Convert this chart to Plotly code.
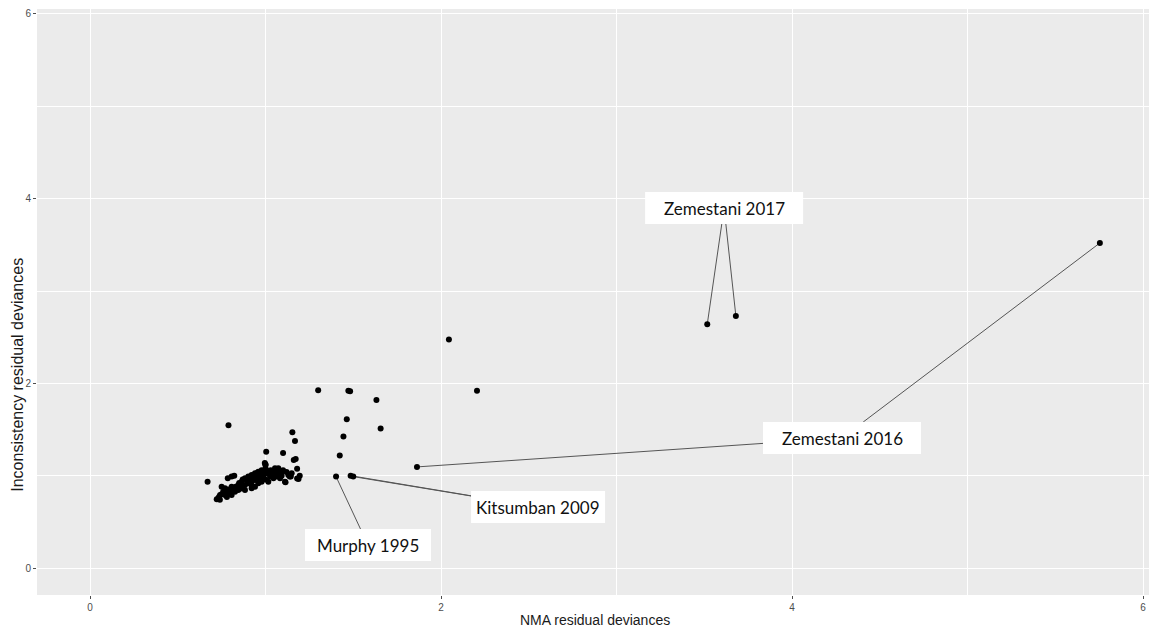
import plotly.graph_objects as go

# Residual deviances per data point: NMA model (x) vs inconsistency model (y)
nma_dev = [
    0.670, 0.789, 1.004, 1.100, 1.153, 1.168, 1.161, 1.172, 1.180, 1.144, 1.195, 1.188,
    0.996, 1.114, 1.300, 1.472, 1.482, 1.632, 1.463, 1.656, 1.444, 1.423, 2.045, 2.205,
    0.785, 0.807, 0.822, 0.731, 0.741, 0.750, 0.769, 0.788, 0.807, 0.826, 0.845, 0.864,
    0.883, 0.902, 0.921, 0.940, 0.959, 0.978, 0.883, 0.902, 0.921, 0.940, 0.959, 0.978,
    0.864, 0.845, 0.826, 0.807, 0.769, 0.759, 0.940, 0.921, 0.959, 0.978, 0.987, 0.883,
    1.000, 1.000, 1.054, 1.073, 1.130, 1.149, 1.180, 1.111, 0.950, 0.969, 0.988, 1.007,
    1.026, 1.045, 1.064, 1.083, 1.016, 1.092, 0.722, 0.735, 0.750, 0.790, 0.810, 0.830,
    0.850, 0.870, 0.895, 0.910, 0.930, 0.950, 0.970, 0.990, 1.010, 1.030, 1.035, 1.050,
    1.070, 1.090, 1.100, 1.120, 1.000, 0.960, 0.920, 0.860, 0.800, 0.780, 0.740, 1.073,
    1.000, 1.138,
]
inc_dev = [
    0.935, 1.547, 1.260, 1.245, 1.470, 1.377, 1.170, 1.180, 1.076, 0.990, 1.000, 0.964,
    1.138, 0.930, 1.924, 1.920, 1.915, 1.820, 1.610, 1.510, 1.424, 1.220, 2.475, 1.920,
    0.972, 0.990, 1.000, 0.755, 0.790, 0.880, 0.863, 0.826, 0.880, 0.863, 0.900, 0.935,
    0.972, 0.990, 1.007, 1.026, 1.043, 1.060, 0.900, 0.918, 0.935, 0.953, 0.970, 0.990,
    0.880, 0.845, 0.826, 0.790, 0.790, 0.826, 0.880, 0.863, 0.918, 0.935, 1.007, 0.845,
    1.116, 1.080, 1.080, 1.060, 1.007, 1.026, 0.970, 0.935, 1.026, 1.007, 0.990, 1.026,
    0.990, 0.972, 0.990, 0.972, 0.935, 1.000, 0.744, 0.770, 0.800, 0.850, 0.840, 0.880,
    0.920, 0.960, 0.950, 0.970, 0.990, 1.000, 1.020, 1.040, 1.050, 1.060, 1.010, 1.030,
    1.040, 1.030, 1.060, 1.040, 0.960, 0.940, 0.900, 0.860, 0.810, 0.770, 0.740, 1.080,
    1.120, 0.990,
]

# Flagged studies and their data points
study_names = ["Zemestani 2017", "Zemestani 2017", "Zemestani 2016", "Zemestani 2016",
               "Kitsumban 2009", "Kitsumban 2009", "Murphy 1995"]
study_nma = [3.517, 3.680, 1.863, 5.754, 1.485, 1.500, 1.402]
study_inc = [2.640, 2.730, 1.095, 3.520, 1.000, 0.990, 0.990]

# Where each label box sits (data units) and its size (px)
label_pos = {
    "Zemestani 2017": (3.613, 3.899, 158, 32),
    "Zemestani 2016": (4.285, 1.408, 158, 32),
    "Kitsumban 2009": (2.553, 0.661, 134, 32),
    "Murphy 1995": (1.584, 0.249, 126, 32),
}

# Plot-area geometry
W, H = 1149, 627
M = dict(l=37, r=0, t=9, b=32)
XR = [-0.302, 6.034]
YR = [-0.292, 6.054]
pw, ph = W - M["l"] - M["r"], H - M["t"] - M["b"]
sx = pw / (XR[1] - XR[0])
sy = ph / (YR[1] - YR[0])


def clip_to_box(px, py, cx, cy, bw, bh):
    """End of the segment from a point toward a label centre, stopped at the box edge."""
    dx, dy = (cx - px) * sx, (cy - py) * sy
    ts = []
    if dx != 0:
        ts.append(1 - (bw / 2) / abs(dx))
    if dy != 0:
        ts.append(1 - (bh / 2) / abs(dy))
    t = max(0.0, max(ts))
    return px + (cx - px) * t, py + (cy - py) * t


fig = go.Figure()

# connector segments
for name, x, y in zip(study_names, study_nma, study_inc):
    cx, cy, bw, bh = label_pos[name]
    ex, ey = clip_to_box(x, y, cx, cy, bw, bh)
    fig.add_trace(go.Scatter(x=[x, ex], y=[y, ey], mode="lines",
                             line=dict(color="#555555", width=1),
                             hoverinfo="skip", showlegend=False))

fig.add_trace(go.Scatter(x=nma_dev + study_nma, y=inc_dev + study_inc, mode="markers",
                         marker=dict(color="black", size=6, line=dict(width=0)),
                         showlegend=False))

for name, (cx, cy, bw, bh) in label_pos.items():
    fig.add_shape(type="rect", xref="x", yref="y", xsizemode="pixel", ysizemode="pixel",
                  xanchor=cx, yanchor=cy, x0=-bw / 2, x1=bw / 2, y0=-bh / 2, y1=bh / 2,
                  fillcolor="white", line=dict(width=0), layer="above")
    fig.add_annotation(x=cx, y=cy, xref="x", yref="y", text=name, showarrow=False,
                       font=dict(family="Lato, Open Sans, sans-serif", size=17, color="#111111"))

tickfont = dict(family="Liberation Sans, Arial, sans-serif", size=10, color="#4D4D4D")
axis_common = dict(
    showgrid=True, gridcolor="white", gridwidth=1.4, zeroline=False,
    ticks="outside", ticklen=3, tickwidth=1, tickcolor="#4D4D4D",
    tickfont=tickfont, showline=False, dtick=2, tick0=0,
    minor=dict(dtick=1, tick0=0, showgrid=True, gridcolor="white", gridwidth=0.6, ticks=""),
)

fig.update_xaxes(range=XR, **axis_common)
fig.update_yaxes(range=YR, **axis_common)

title_font = dict(family="Liberation Sans, Arial, sans-serif", size=14, color="#1a1a1a")
fig.add_annotation(text="NMA residual deviances", xref="paper", yref="paper",
                   x=0.502, y=-0.042, xanchor="center", yanchor="middle", showarrow=False,
                   font=title_font)
fig.add_annotation(text="Inconsistency residual deviances", xref="paper", yref="paper",
                   x=-0.017, y=0.376, xanchor="center", yanchor="middle", textangle=-90,
                   showarrow=False, font=dict(title_font, size=16))

fig.update_layout(
    width=W, height=H, margin=M,
    plot_bgcolor="#EBEBEB", paper_bgcolor="white",
)

fig.write_html("out.html")
